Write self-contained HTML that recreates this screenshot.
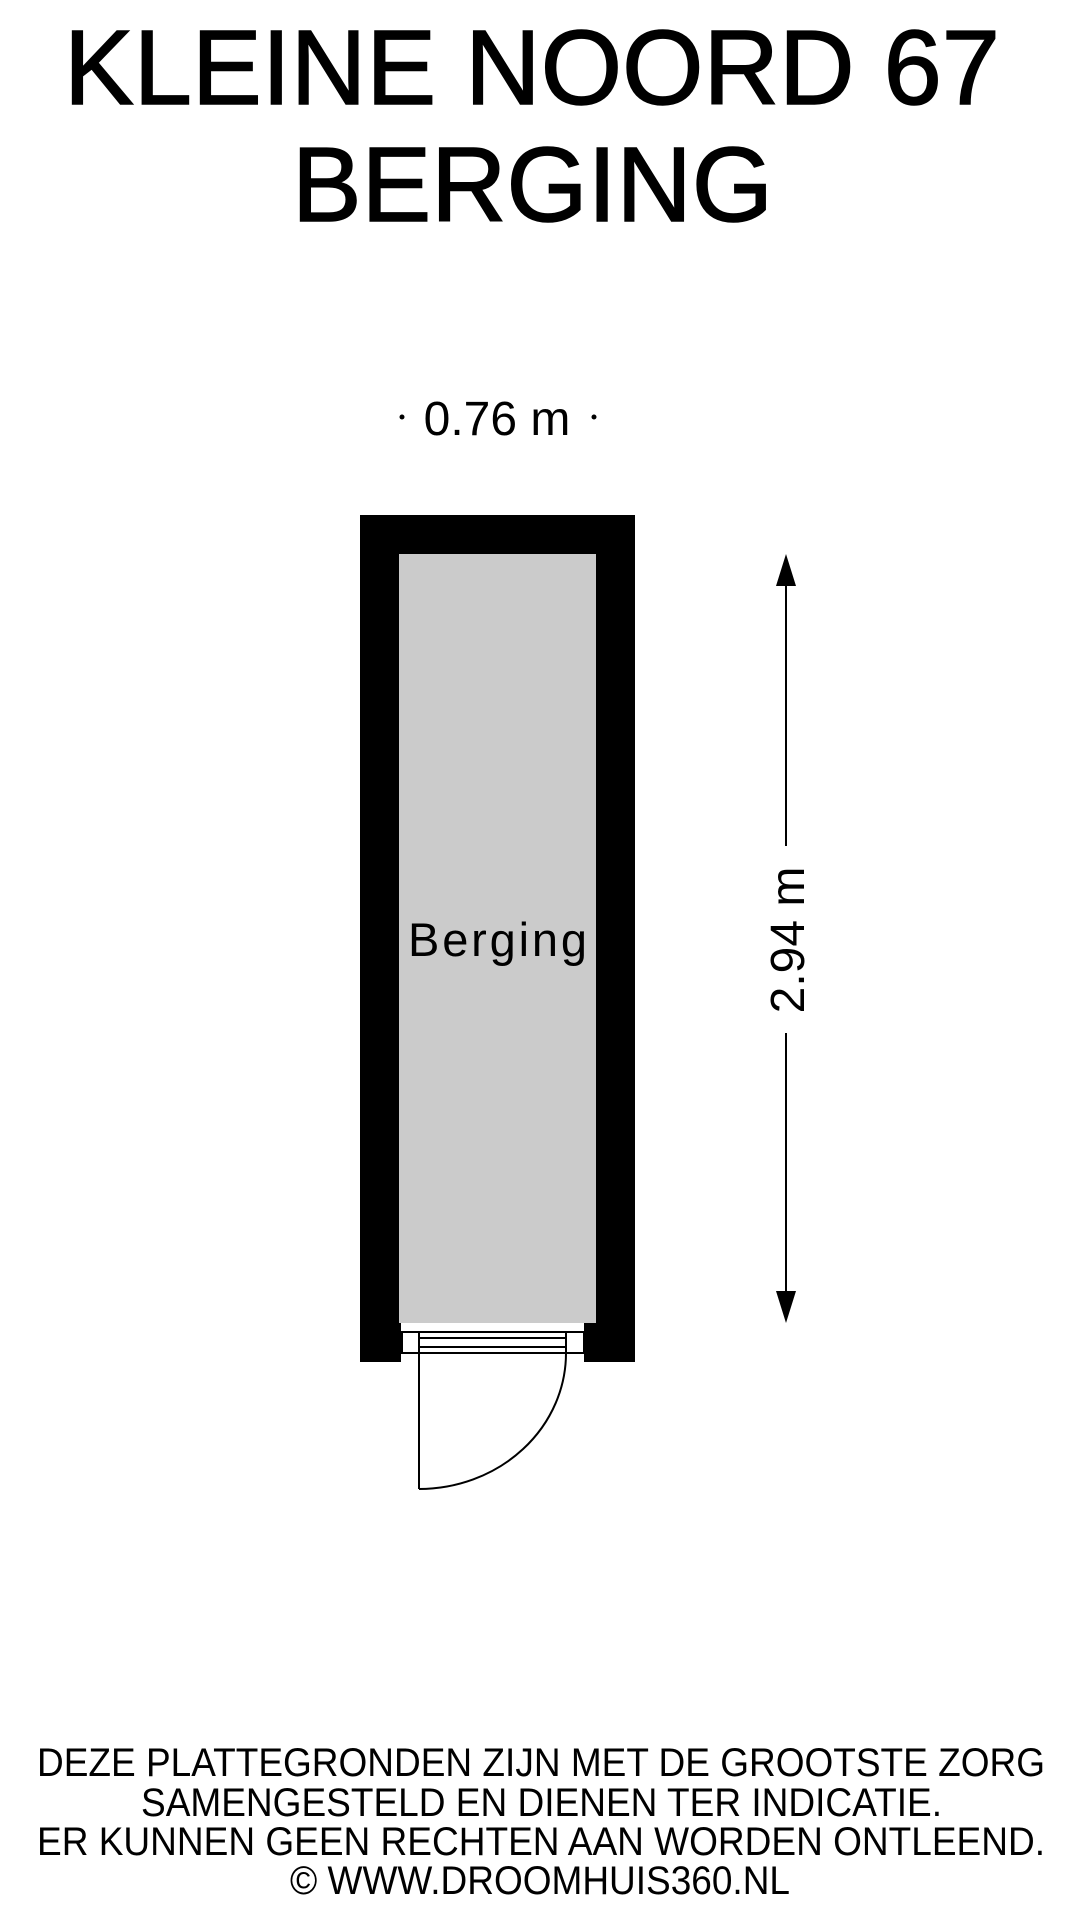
<!DOCTYPE html>
<html><head><meta charset="utf-8"><style>
html,body{margin:0;padding:0;background:#fff;}
svg{display:block;}
text{font-family:"Liberation Sans",Arial,sans-serif;fill:#000;}
</style></head><body>
<svg width="1080" height="1920" viewBox="0 0 1080 1920" xmlns="http://www.w3.org/2000/svg">
<text x="64" y="104" font-size="106" stroke="#000" stroke-width="1.5" textLength="936" lengthAdjust="spacingAndGlyphs">KLEINE NOORD 67</text>
<text x="292" y="221" font-size="106" stroke="#000" stroke-width="1.5" textLength="481" lengthAdjust="spacingAndGlyphs">BERGING</text>

<text x="497" y="435" font-size="48" text-anchor="middle">0.76 m</text>
<circle cx="402" cy="417" r="2.5" fill="#000"/>
<circle cx="594" cy="417" r="2.5" fill="#000"/>

<path d="M360 515 H635 V1362 H584 V1323 H596 V554 H399 V1323 H401 V1362 H360 Z" fill="#000"/>
<rect x="399" y="554" width="197" height="769" fill="#cbcbcb"/>
<rect x="402" y="1332" width="17" height="21" fill="#fff" stroke="#000" stroke-width="2"/>
<rect x="566" y="1332" width="18" height="21" fill="#fff" stroke="#000" stroke-width="2"/>
<g stroke="#000" stroke-width="2" fill="none">
<line x1="419" y1="1332" x2="566" y2="1332"/>
<line x1="419" y1="1338" x2="566" y2="1338"/>
<line x1="419" y1="1347" x2="566" y2="1347"/>
<line x1="419" y1="1353" x2="566" y2="1353"/>
<line x1="419" y1="1353" x2="419" y2="1489"/>
<path d="M419 1489 A147 136 0 0 0 566 1353"/>
</g>

<g stroke="#000" stroke-width="2">
<line x1="786" y1="575" x2="786" y2="846"/>
<line x1="786" y1="1033" x2="786" y2="1302"/>
</g>
<polygon points="786,554 776,586 796,586" fill="#000"/>
<polygon points="786,1323 776,1291 796,1291" fill="#000"/>
<text transform="translate(804,940) rotate(-90)" font-size="48" text-anchor="middle">2.94 m</text>

<text x="408" y="956" font-size="47" textLength="179" lengthAdjust="spacing">Berging</text>

<g font-size="40">
<text x="37" y="1776" textLength="1008" lengthAdjust="spacingAndGlyphs">DEZE PLATTEGRONDEN ZIJN MET DE GROOTSTE ZORG</text>
<text x="141" y="1816" textLength="801" lengthAdjust="spacingAndGlyphs">SAMENGESTELD EN DIENEN TER INDICATIE.</text>
<text x="37" y="1855" textLength="1008" lengthAdjust="spacingAndGlyphs">ER KUNNEN GEEN RECHTEN AAN WORDEN ONTLEEND.</text>
<text x="290" y="1894" textLength="500" lengthAdjust="spacingAndGlyphs">© WWW.DROOMHUIS360.NL</text>
</g>
</svg>
</body></html>
